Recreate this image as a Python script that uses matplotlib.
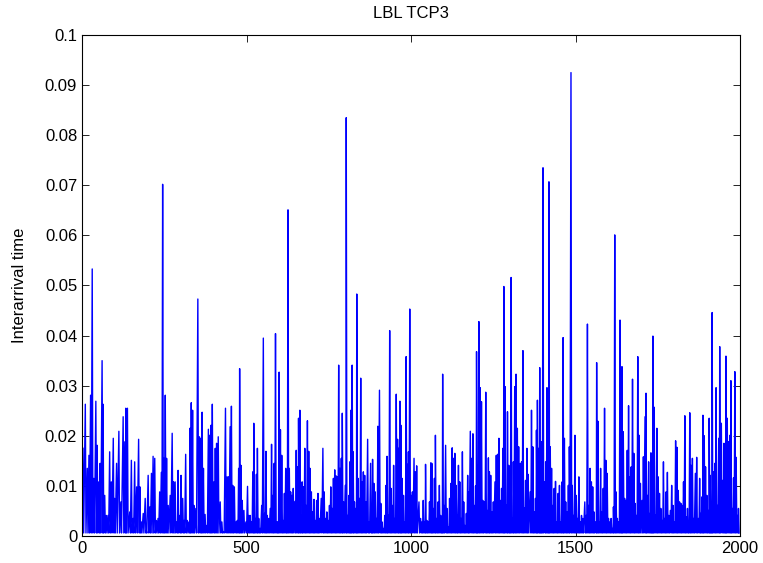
import numpy as np
import matplotlib
matplotlib.use("Agg")
import matplotlib.pyplot as plt

# sample index of each local peak
spike_index = [
    3, 10, 16, 21, 26, 31, 36, 42, 46, 51, 55, 61, 64, 69, 74, 79, 84, 89, 95, 99, 105, 112, 118, 125, 130, 133, 138, 145, 150, 155, 160, 166,
    172, 176, 180, 186, 192, 195, 201, 206, 211, 216, 221, 226, 231, 236, 241, 245, 249, 253, 257, 262, 268, 274, 278, 283, 288, 292, 297, 301, 306, 310, 315, 320, 325, 328, 332, 336,
    340, 346, 352, 357, 361, 365, 369, 374, 379, 384, 388, 392, 396, 401, 405, 409, 414, 420, 425, 430, 436, 441, 445, 450, 454, 458, 463, 468, 472, 476, 479, 483, 487, 492, 498, 503, 507,
    511, 515, 519, 522, 526, 530, 533, 537, 541, 546, 551, 555, 559, 563, 567, 572, 576, 580, 584, 588, 592, 595, 599, 603, 607, 611, 615, 619, 622, 626, 630, 634, 638, 642, 647, 651, 655, 658, 662, 666, 669, 673, 677,
    681, 685, 689, 693, 697, 701, 705, 709, 713, 717, 721, 727, 732, 736, 740, 744, 748, 752, 756, 760, 764, 768, 772, 776, 780, 784, 788, 791, 795, 800, 803, 807, 811, 814, 817, 821, 824, 828, 832, 835, 839, 843, 847,
    851, 855, 859, 863, 868, 872, 877, 880, 883, 887, 891, 895, 899, 904, 908, 912, 916, 920, 924, 927, 931, 935, 939, 943, 947, 951, 955, 959, 962, 966, 969, 973, 977, 981, 985, 989, 992, 996, 1000, 1004, 1009, 1013, 1017,
    1024, 1029, 1033, 1037, 1041, 1044, 1048, 1052, 1056, 1060, 1063, 1067, 1071, 1074, 1078, 1082, 1086, 1090, 1093, 1096, 1100, 1105, 1109, 1113, 1117, 1121, 1125, 1129, 1133, 1137, 1140, 1144, 1148, 1152, 1156, 1160, 1164, 1168, 1172, 1175, 1180, 1184, 1188,
    1192, 1196, 1199, 1202, 1206, 1210, 1214, 1218, 1223, 1227, 1231, 1235, 1238, 1242, 1246, 1250, 1255, 1259, 1263, 1267, 1271, 1275, 1279, 1282, 1286, 1290, 1293, 1297, 1300, 1304, 1308, 1311, 1315, 1319, 1323, 1327, 1332, 1336, 1340, 1344, 1348, 1352, 1356,
    1362, 1366, 1370, 1374, 1378, 1381, 1384, 1388, 1391, 1394, 1397, 1401, 1406, 1409, 1413, 1416, 1419, 1423, 1427, 1431, 1435, 1439, 1443, 1447, 1451, 1455, 1459, 1462, 1466, 1470, 1474, 1478, 1481, 1486, 1490, 1494, 1498, 1502, 1506, 1510, 1514, 1518, 1522, 1528,
    1532, 1536, 1540, 1544, 1548, 1552, 1556, 1561, 1564, 1568, 1572, 1576, 1580, 1584, 1588, 1592, 1596, 1600, 1604, 1608, 1612, 1615, 1619, 1623, 1627, 1631, 1635, 1638, 1641, 1645, 1649, 1653, 1657, 1661, 1665, 1669, 1673, 1677, 1681, 1685, 1689, 1693, 1697,
    1702, 1706, 1711, 1714, 1718, 1722, 1726, 1729, 1732, 1735, 1739, 1743, 1747, 1751, 1755, 1759, 1763, 1767, 1771, 1775, 1779, 1783, 1788, 1792, 1796, 1800, 1804, 1808, 1812, 1816, 1820, 1824, 1828, 1832, 1836, 1840, 1843, 1847, 1851, 1855, 1859, 1864, 1868,
    1873, 1877, 1880, 1884, 1887, 1891, 1895, 1899, 1903, 1906, 1909, 1912, 1915, 1919, 1923, 1927, 1931, 1935, 1938, 1943, 1947, 1951, 1954, 1957, 1961, 1965, 1969, 1972, 1976, 1980, 1984, 1988, 1992, 1995,
]

# peak heights (seconds)
spike_value = [
    .0175, .0263, .0135, .0161, .0281, .0533, .0115, .0269, .0181, .0108, .0145, .035, .0263, .0081, .0041, .0041, .0168, .0108, .0195, .0075, .0145, .0209, .0068, .0238, .0188, .0255, .0255, .0048, .0151, .0035, .0148, .0098,
    .0193, .0098, .0028, .0045, .0075, .0011, .0121, .0058, .0125, .0159, .0155, .0031, .0035, .0088, .0127, .0702, .0155, .0281, .0155, .0061, .0081, .0205, .0108, .0108, .0028, .0131, .0041, .0121, .0075, .0031, .0163, .0031, .0028, .0215, .0266, .0251,
    .0061, .0055, .0473, .0198, .0195, .0247, .0135, .0043, .0021, .0213, .0201, .0221, .0263, .0108, .0175, .0185, .0198, .0068, .0028, .0008, .0255, .0118, .0118, .0218, .0259, .0101, .0098, .0028, .0031, .0135, .0334, .0141, .0071, .0051, .0028, .0099, .0041,
    .0041, .0028, .0128, .0225, .0035, .0123, .0175, .0035, .0015, .0061, .0395, .0045, .0169, .0041, .0035, .0055, .0183, .0081, .0145, .0404, .0028, .0028, .0327, .0212, .0161, .0031, .0085, .0135, .0041, .0651, .0135, .0088, .0081, .0095, .0069, .0171, .0138, .0235, .0251, .0041, .0108, .0098, .0175,
    .0061, .023, .0169, .0135, .0088, .0048, .0073, .0031, .0071, .0085, .0035, .0075, .0175, .0088, .0035, .0048, .0031, .0061, .0098, .0055, .0115, .0132, .012, .0118, .0341, .0135, .0155, .0245, .0068, .0101, .0835, .0041, .0081, .0148, .0251, .0341, .0168, .0068, .0055, .0483, .0115, .0075, .0315,
    .0108, .0128, .0121, .0068, .0193, .0028, .0145, .0041, .0153, .0105, .0088, .0035, .0219, .0291, .0065, .0028, .0015, .0041, .0101, .0159, .0041, .041, .0095, .0061, .0141, .0035, .0283, .0193, .0175, .0269, .0221, .0115, .0081, .0028, .0358, .0143, .0168, .0453, .0081, .0088, .0155, .0128, .014,
    .0068, .0035, .0028, .0071, .0028, .0143, .0031, .0028, .0068, .0146, .0145, .0055, .0115, .0201, .0035, .0068, .0101, .0041, .0028, .0323, .0061, .0181, .0055, .0018, .0075, .0105, .0176, .0155, .0165, .0101, .0041, .0141, .0108, .0035, .0168, .0068, .0021, .0045, .0121, .0088, .0209, .0155, .0204,
    .0061, .01, .0368, .0141, .0428, .0296, .0268, .0071, .0068, .0287, .0051, .0156, .0128, .0121, .0048, .0068, .0108, .0161, .0163, .0195, .0071, .0095, .0175, .0498, .0298, .0061, .0248, .0141, .0135, .0516, .0035, .0148, .0298, .0323, .0215, .0178, .0145, .0148, .037, .0056, .0111, .0175, .0123,
    .0088, .0251, .0178, .0048, .0075, .0211, .0271, .0175, .0336, .0161, .0188, .0735, .0108, .0148, .0296, .0178, .0707, .0178, .0135, .0061, .0095, .0109, .0028, .0085, .0101, .0028, .0108, .0396, .0195, .0068, .0048, .0101, .0178, .0925, .0101, .0041, .0201, .0081, .0035, .0118, .0028, .0041, .0035, .0068,
    .0041, .0423, .0061, .0135, .0108, .0098, .0048, .0028, .0346, .0229, .0028, .0135, .0048, .0095, .0255, .0151, .0125, .0035, .0028, .0035, .0015, .0058, .0601, .0088, .0035, .0028, .0431, .0075, .0338, .0208, .0075, .0071, .0171, .026, .0118, .0138, .0313, .0165, .0065, .0041, .0358, .0201, .0105,
    .0071, .0158, .0238, .0285, .0081, .0148, .0045, .0166, .0028, .0399, .0257, .0041, .0215, .0118, .0085, .0055, .0031, .0148, .0035, .0088, .0127, .0041, .0051, .0101, .0061, .0028, .019, .0177, .0091, .0068, .0065, .0061, .0108, .024, .0038, .0055, .0028, .0246, .0141, .0155, .0035, .0125, .0157,
    .0035, .0115, .0045, .0078, .0241, .02, .0138, .0081, .0051, .0235, .0121, .0028, .0446, .0128, .0145, .0296, .0061, .0195, .0378, .0225, .0111, .0185, .0068, .0359, .0235, .0188, .0201, .031, .0055, .0116, .0328, .0157, .0041, .0055,
]

# the trace drops back to about this level between peaks
floor_value = 0.0006

title = "LBL TCP3"
ylabel = "Interarrival time"

assert len(spike_index) == len(spike_value), (len(spike_index), len(spike_value))

# interleave peaks with the floor so the line goes up and down
xs = []
ys = []
for i, v in zip(spike_index, spike_value):
    xs += [i, i + 2]
    ys += [v, floor_value]

plt.rcParams['font.family'] = ['Liberation Sans', 'DejaVu Sans']

fig = plt.figure(figsize=(7.63, 5.63), dpi=100)
ax = fig.add_axes([0.1075, 0.048, 0.8625, 0.8898])
ax.plot(xs, ys, color=(0, 0, 1), lw=1.0)

ax.set_xlim(0, 2000)
ax.set_ylim(0, 0.1)
ax.set_xticks(np.arange(0, 2001, 500))
ax.set_yticks(np.arange(0, 0.1001, 0.01))
ax.set_yticklabels(["0"] + ["%g" % round(t, 2) for t in np.arange(0.01, 0.1001, 0.01)])
ax.tick_params(direction="in", top=True, right=True, labelsize=12, length=5, width=0.6)
for s in ax.spines.values():
    s.set_linewidth(0.8)

ax.set_title(title, fontsize=12, pad=12)
ax.set_ylabel(ylabel, fontsize=12, labelpad=13)

fig.savefig("out.png", dpi=100)
